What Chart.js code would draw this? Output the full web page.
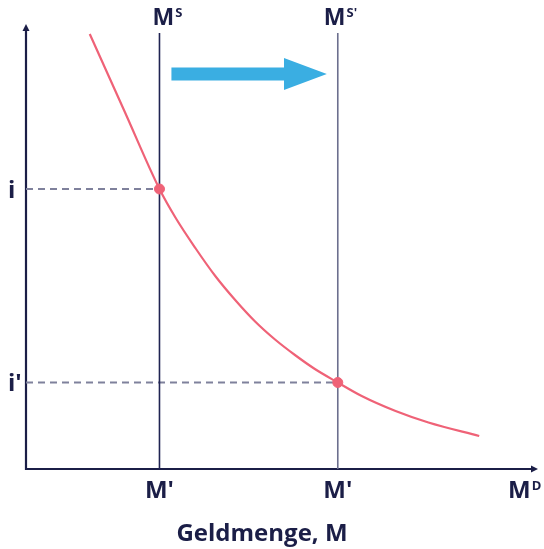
<!DOCTYPE html>
<html>
<head>
<meta charset="utf-8">
<script src="https://cdn.jsdelivr.net/npm/chart.js@4.4.1/dist/chart.umd.min.js"></script>
<style>
  html, body { margin: 0; padding: 0; background: #fff; }
  #wrap { width: 544px; height: 549px; }
</style>
</head>
<body>
<div id="wrap"><canvas id="moneyChart"></canvas></div>
<script>
// demand curve (money amount vs. interest rate)
const demandX = [64, 99, 134, 150, 170, 190, 210, 230, 250, 270, 290, 313, 337, 371, 404, 455];
const demandY = [435, 357.5, 280, 251.5, 221, 193, 169, 147.5, 129.5, 114, 100, 86.5, 73, 58, 46.5, 33];

// supply lines M^S and M^S'
const supplyX = [134, 313];
const supplyTop = 436;

// equilibrium interest rates i and i'
const rateY = [280, 86.5];

const xTickLabels = ["M'", "M'"];
const yTickLabels = ['i', "i'"];
const supplyLabels = [['M', 'S'], ['M', "S'"]];
const demandLabel = ['M', 'D'];
const xTitle = 'Geldmenge, M';

const xMax = 514;
const yMax = 445;

const navy = '#1b1e47';
const red = '#ef6277';
const blue = '#3aaee2';
const font = "'Open Sans', sans-serif";

const overlay = {
  id: 'overlay',
  beforeDatasetsDraw(chart) {
    const { ctx, scales: { x, y } } = chart;
    const ox = x.getPixelForValue(0), oy = y.getPixelForValue(0);
    const top = y.getPixelForValue(yMax), right = x.getPixelForValue(xMax);
    ctx.save();
    ctx.strokeStyle = navy;
    ctx.fillStyle = navy;
    ctx.lineWidth = 2.2;
    // y axis
    ctx.beginPath();
    ctx.moveTo(ox, oy + 1);
    ctx.lineTo(ox, top + 5);
    ctx.stroke();
    ctx.beginPath();
    ctx.moveTo(ox, top);
    ctx.lineTo(ox - 3.5, top + 7);
    ctx.lineTo(ox + 3.5, top + 7);
    ctx.closePath();
    ctx.fill();
    // x axis
    ctx.beginPath();
    ctx.moveTo(ox - 1, oy);
    ctx.lineTo(right - 5, oy);
    ctx.stroke();
    ctx.beginPath();
    ctx.moveTo(right, oy);
    ctx.lineTo(right - 7, oy - 3.5);
    ctx.lineTo(right - 7, oy + 3.5);
    ctx.closePath();
    ctx.fill();
    ctx.restore();
  },
  afterDatasetsDraw(chart) {
    const { ctx, scales: { x, y } } = chart;
    ctx.save();
    // shift arrow
    const ax0 = x.getPixelForValue(146), ax1 = x.getPixelForValue(259), ax2 = x.getPixelForValue(302);
    const ay = y.getPixelForValue(395);
    ctx.fillStyle = blue;
    ctx.beginPath();
    ctx.moveTo(ax0, ay - 6.5);
    ctx.lineTo(ax1, ay - 6.5);
    ctx.lineTo(ax1, ay - 16);
    ctx.lineTo(ax2, ay);
    ctx.lineTo(ax1, ay + 16);
    ctx.lineTo(ax1, ay + 6.5);
    ctx.lineTo(ax0, ay + 6.5);
    ctx.closePath();
    ctx.fill();

    // labels with superscripts
    ctx.fillStyle = navy;
    ctx.textBaseline = 'alphabetic';
    ctx.textAlign = 'left';
    const drawSup = (parts, lx, base, size, supSize, supBase) => {
      ctx.font = 'bold ' + size + 'px ' + font;
      ctx.fillText(parts[0], lx, base);
      const w = ctx.measureText(parts[0]).width;
      ctx.font = 'bold ' + supSize + 'px ' + font;
      ctx.fillText(parts[1], lx + w + 1, supBase);
    };
    const shifts = [-7, -14];
    supplyLabels.forEach((lab, i) => {
      drawSup(lab, x.getPixelForValue(supplyX[i]) + shifts[i], 25, 23, 13, 17);
    });
    drawSup(demandLabel, x.getPixelForValue(xMax) - 30, 498, 24, 13, 490);

    ctx.font = 'bold 24px ' + font;
    ctx.textAlign = 'center';
    ctx.fillText(xTitle, 262, 541);
    ctx.restore();
  }
};

const lineData = (xs, ys) => xs.map((v, i) => ({ x: v, y: ys[i] }));

new Chart(document.getElementById('moneyChart'), {
  type: 'scatter',
  data: {
    datasets: [
      {
        label: 'i',
        data: [{ x: 0, y: rateY[0] }, { x: supplyX[0], y: rateY[0] }],
        showLine: true, borderColor: '#7f819c', borderWidth: 2, borderDash: [7, 5],
        pointRadius: 0, order: 5
      },
      {
        label: "i'",
        data: [{ x: 0, y: rateY[1] }, { x: supplyX[1], y: rateY[1] }],
        showLine: true, borderColor: '#7f819c', borderWidth: 2, borderDash: [7, 5],
        pointRadius: 0, order: 5
      },
      {
        label: 'MS',
        data: [{ x: supplyX[0], y: 0 }, { x: supplyX[0], y: supplyTop }],
        showLine: true, borderColor: '#1f2352', borderWidth: 1.6,
        pointRadius: 0, order: 4
      },
      {
        label: "MS'",
        data: [{ x: supplyX[1], y: 0 }, { x: supplyX[1], y: supplyTop }],
        showLine: true, borderColor: '#6c6f8e', borderWidth: 1.6,
        pointRadius: 0, order: 4
      },
      {
        label: 'MD',
        data: lineData(demandX, demandY),
        showLine: true, borderColor: red, borderWidth: 2.2,
        cubicInterpolationMode: 'monotone',
        pointRadius: 0, order: 2
      },
      {
        label: 'Gleichgewicht',
        data: lineData(supplyX, rateY),
        backgroundColor: red, borderColor: red,
        pointRadius: 5, order: 1
      }
    ]
  },
  options: {
    responsive: true,
    maintainAspectRatio: false,
    animation: false,
    layout: { padding: { left: 8, right: 4, top: 24, bottom: 0 } },
    plugins: { legend: { display: false }, tooltip: { enabled: false } },
    scales: {
      x: {
        type: 'linear', min: 0, max: xMax,
        grid: { display: false, drawTicks: false },
        border: { display: false },
        afterBuildTicks: s => { s.ticks = supplyX.map(v => ({ value: v })); },
        afterFit: s => { s.height = 80; },
        ticks: {
          padding: 8, maxRotation: 0, minRotation: 0, autoSkip: false,
          color: navy, font: { family: font, size: 24, weight: 'bold' },
          callback: (v, i) => xTickLabels[i]
        }
      },
      y: {
        type: 'linear', min: 0, max: yMax,
        grid: { display: false, drawTicks: false },
        border: { display: false },
        afterBuildTicks: s => { s.ticks = rateY.map(v => ({ value: v })); },
        afterFit: s => { s.width = 18; },
        ticks: {
          crossAlign: 'far', padding: 0, labelOffset: 2, autoSkip: false,
          color: navy, font: { family: font, size: 24, weight: 'bold' },
          callback: (v, i) => yTickLabels[i]
        }
      }
    }
  },
  plugins: [overlay]
});
</script>
</body>
</html>
